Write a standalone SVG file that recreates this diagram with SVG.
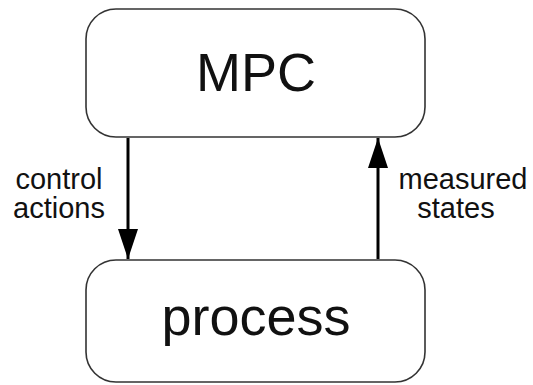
<svg xmlns="http://www.w3.org/2000/svg" width="533" height="385" viewBox="0 0 533 385">
<style>
.box{fill:#fff;stroke:#333;stroke-width:1.6}
.lbl{font-family:"Liberation Sans",Arial,sans-serif;fill:#111;text-anchor:middle}
.big{font-size:54px}
.sm{font-size:29px}
.con{stroke:#000;stroke-width:3;fill:none}
</style>
<defs>
<marker id="ah" markerWidth="30" markerHeight="20" refX="30" refY="10" orient="auto" markerUnits="userSpaceOnUse" viewBox="0 0 30 20">
<path d="M0,0 L30,10 L0,20 z" fill="#000"/>
</marker>
</defs>
<rect width="533" height="385" fill="#fff"/>
<g id="mpc">
<rect class="box" x="86" y="9" width="339" height="128" rx="30" ry="30"/>
<text class="lbl big" x="256" y="91">MPC</text>
</g>
<g id="process">
<rect class="box" x="86" y="260" width="339" height="122" rx="30" ry="30"/>
<text class="lbl big" x="256" y="335">process</text>
</g>
<g id="connectors">
<line class="con" x1="128" y1="138" x2="128" y2="259" marker-end="url(#ah)"/>
<line class="con" x1="378" y1="259" x2="378" y2="138" marker-end="url(#ah)"/>
<text class="lbl sm" x="59" y="189">control</text>
<text class="lbl sm" x="59" y="218">actions</text>
<text class="lbl sm" x="463" y="189">measured</text>
<text class="lbl sm" x="456" y="218">states</text>
</g>
</svg>
